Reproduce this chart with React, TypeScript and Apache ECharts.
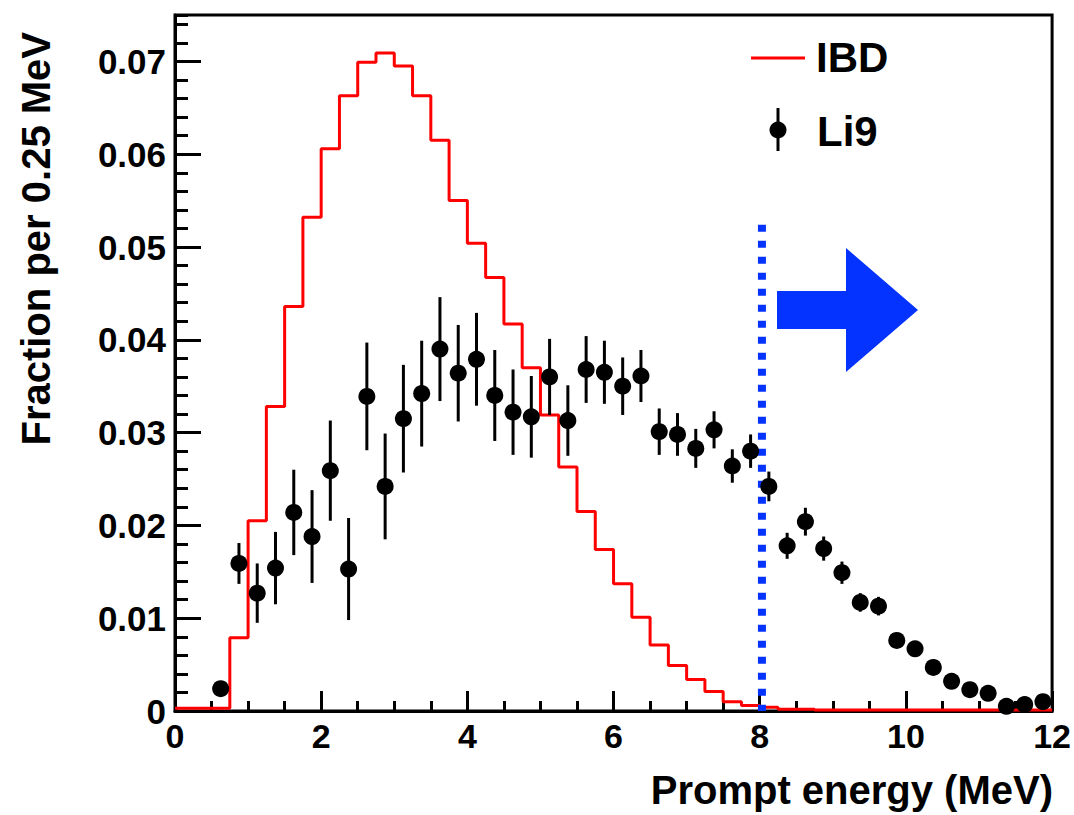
import React, { useEffect, useRef } from "react";
import * as echarts from "echarts";

// ---- Data ----
const BIN_WIDTH = 0.25; // MeV
// IBD prompt-energy spectrum, fraction per 0.25 MeV bin, bins from 0 to 12 MeV
const ibdValues: number[] = [
  0.0003, 0.0003, 0.0003, 0.0079, 0.0205, 0.0328, 0.0436, 0.0532,
  0.0606, 0.0663, 0.0699, 0.0709, 0.0695, 0.0663, 0.0615, 0.055,
  0.0504, 0.0467, 0.0417, 0.037, 0.0319, 0.0263, 0.0215, 0.0174,
  0.0137, 0.0101, 0.0071, 0.0049, 0.0034, 0.0021, 0.001, 0.0006,
  0.0004, 0.0002, 0.0002, 0.0001, 0.0001, 0.0001, 0.0001, 0.0001,
  0.0001, 0.0001, 0.0001, 0.0001, 0.0001, 0.0001, 0.0001, 0.0001,
];
// Li9 points (bin centres)
const li9Energy: number[] = [
  0.625, 0.875, 1.125, 1.375, 1.625, 1.875, 2.125, 2.375, 2.625, 2.875,
  3.125, 3.375, 3.625, 3.875, 4.125, 4.375, 4.625, 4.875, 5.125, 5.375,
  5.625, 5.875, 6.125, 6.375, 6.625, 6.875, 7.125, 7.375, 7.625, 7.875,
  8.125, 8.375, 8.625, 8.875, 9.125, 9.375, 9.625, 9.875, 10.125, 10.375,
  10.625, 10.875, 11.125, 11.375, 11.625, 11.875,
];
const li9Values: number[] = [
  0.0024, 0.0159, 0.0127, 0.0154, 0.0214, 0.0188, 0.0259, 0.0153, 0.0339, 0.0242,
  0.0315, 0.0342, 0.039, 0.0364, 0.0379, 0.034, 0.0322, 0.0317, 0.036, 0.0313,
  0.0368, 0.0365, 0.035, 0.0361, 0.0301, 0.0298, 0.0283, 0.0303, 0.0264, 0.028,
  0.0242, 0.0178, 0.0204, 0.0175, 0.0149, 0.0117, 0.0113, 0.0076, 0.0067, 0.0047,
  0.0032, 0.0023, 0.0019, 0.0005, 0.0007, 0.001,
];
const li9Errors: number[] = [
  0.0004, 0.0022, 0.0032, 0.0039, 0.0046, 0.005, 0.0054, 0.0055, 0.0058, 0.0057,
  0.0058, 0.0057, 0.0056, 0.0052, 0.005, 0.0049, 0.0046, 0.0044, 0.0041, 0.0038,
  0.0036, 0.0034, 0.0031, 0.0028, 0.0025, 0.0023, 0.0021, 0.002, 0.0018, 0.0018,
  0.0016, 0.0014, 0.0015, 0.0013, 0.0012, 0.001, 0.001, 0.0008, 0.0007, 0.0006,
  0.0005, 0.0004, 0.0004, 0.0003, 0.0003, 0.0003,
];
const cutEnergy = 8.03;
const cutTop = 0.0524;

const xTitle = "Prompt energy (MeV)";
const yTitle = "Fraction per 0.25 MeV";
const legendNames = ["IBD", "Li9"];

const FONT = "'Liberation Sans', Arial, Helvetica, sans-serif";
const BLUE = "#0433ff";

export default function App() {
  const ref = useRef<HTMLDivElement>(null);

  useEffect(() => {
    document.body.style.margin = "0";
    if (!ref.current) return;
    const chart = echarts.init(ref.current, undefined, { renderer: "svg" });

    const ibdStep: number[][] = ibdValues.map((v, i) => [i * BIN_WIDTH, v]);
    ibdStep.push([ibdValues.length * BIN_WIDTH, ibdValues[ibdValues.length - 1]]);

    const li9Data = li9Energy.map((x, i) => [x, li9Values[i]]);
    const li9ErrData = li9Energy.map((x, i) => [x, li9Values[i], li9Errors[i]]);

    const option: any = {
      animation: false,
      backgroundColor: "#fff",
      textStyle: { fontFamily: FONT },
      grid: {
        left: 175,
        right: 21,
        top: 15,
        bottom: 104,
        show: true,
        borderColor: "#000",
        borderWidth: 3,
        backgroundColor: "transparent",
      },
      xAxis: {
        type: "value",
        min: 0,
        max: 12,
        interval: 2,
        axisLine: { show: true, onZero: false, lineStyle: { color: "#000", width: 3 } },
        axisTick: { show: true, inside: true, length: 20, lineStyle: { color: "#000", width: 3 } },
        minorTick: { show: true, splitNumber: 4, length: 10, lineStyle: { color: "#000", width: 3 } },
        splitLine: { show: false },
        axisLabel: {
          margin: 8,
          fontSize: 34,
          fontWeight: "bold",
          color: "#000",
          fontFamily: FONT,
        },
      },
      yAxis: [
        {
          type: "value",
          min: 0,
          max: 0.075,
          interval: 0.01,
          position: "left",
          axisLine: { show: true, onZero: false, lineStyle: { color: "#000", width: 3 } },
          axisTick: { show: true, inside: true, length: 26, lineStyle: { color: "#000", width: 3 } },
          splitLine: { show: false },
          axisLabel: {
            margin: 9,
            fontSize: 35,
            fontWeight: "bold",
            color: "#000",
            fontFamily: FONT,
            showMaxLabel: false,
            formatter: (v: number) => (v === 0 ? "0" : v.toFixed(2)),
          },
        },
        {
          type: "value",
          min: 0,
          max: 0.075,
          interval: 0.002,
          position: "left",
          axisLine: { show: false },
          axisTick: { show: true, inside: true, length: 13, lineStyle: { color: "#000", width: 3 } },
          splitLine: { show: false },
          axisLabel: { show: false },
        },
      ],
      series: [
        {
          name: legendNames[0],
          type: "line",
          step: "end",
          data: ibdStep,
          symbol: "none",
          lineStyle: { color: "#ff0000", width: 3 },
          z: 3,
        },
        {
          name: "cut",
          type: "line",
          data: [
            [cutEnergy, cutTop],
            [cutEnergy, 0],
          ],
          symbol: "none",
          lineStyle: { color: BLUE, width: 8, type: [7, 9], cap: "butt" },
          z: 4,
        },
        {
          name: legendNames[1] + " errors",
          type: "custom",
          data: li9ErrData,
          renderItem: (params: any, api: any) => {
            const x = api.value(0);
            const y = api.value(1);
            const e = api.value(2);
            const p1 = api.coord([x, y + e]);
            const p2 = api.coord([x, y - e]);
            return {
              type: "line",
              shape: { x1: p1[0], y1: p1[1], x2: p2[0], y2: p2[1] },
              style: { stroke: "#000", lineWidth: 3 },
            };
          },
          z: 5,
        },
        {
          name: legendNames[1],
          type: "scatter",
          data: li9Data,
          symbol: "circle",
          symbolSize: 17,
          itemStyle: { color: "#000", opacity: 1 },
          z: 6,
        },
      ],
      graphic: [
        // arrow
        {
          type: "polygon",
          shape: {
            points: [
              [777, 291],
              [846, 291],
              [846, 248],
              [918, 310],
              [846, 372],
              [846, 329],
              [777, 329],
            ],
          },
          style: { fill: BLUE },
          z: 10,
        },
        // legend
        {
          type: "line",
          shape: { x1: 751, y1: 58, x2: 805, y2: 58 },
          style: { stroke: "#ff0000", lineWidth: 3 },
          z: 10,
        },
        {
          type: "text",
          x: 816,
          y: 57,
          style: {
            text: legendNames[0],
            fontSize: 42,
            fontWeight: "bold",
            fontFamily: FONT,
            fill: "#000",
            align: "left",
            verticalAlign: "middle",
          },
          z: 10,
        },
        {
          type: "line",
          shape: { x1: 778, y1: 108, x2: 778, y2: 151 },
          style: { stroke: "#000", lineWidth: 3 },
          z: 10,
        },
        {
          type: "circle",
          shape: { cx: 778, cy: 130, r: 8.5 },
          style: { fill: "#000" },
          z: 10,
        },
        {
          type: "text",
          x: 817,
          y: 131,
          style: {
            text: legendNames[1],
            fontSize: 42,
            fontWeight: "bold",
            fontFamily: FONT,
            fill: "#000",
            align: "left",
            verticalAlign: "middle",
          },
          z: 10,
        },
        // axis titles
        {
          type: "text",
          x: 1053,
          y: 790,
          style: {
            text: xTitle,
            fontSize: 40,
            fontWeight: "bold",
            fontFamily: FONT,
            fill: "#000",
            align: "right",
            verticalAlign: "middle",
          },
          z: 10,
        },
        {
          type: "text",
          x: 36,
          y: 32,
          rotation: Math.PI / 2,
          style: {
            text: yTitle,
            fontSize: 40,
            fontWeight: "bold",
            fontFamily: FONT,
            fill: "#000",
            align: "right",
            verticalAlign: "middle",
          },
          z: 10,
        },
      ],
    };

    chart.setOption(option);
    return () => {
      chart.dispose();
    };
  }, []);

  return <div ref={ref} style={{ width: 1074, height: 815 }} />;
}
